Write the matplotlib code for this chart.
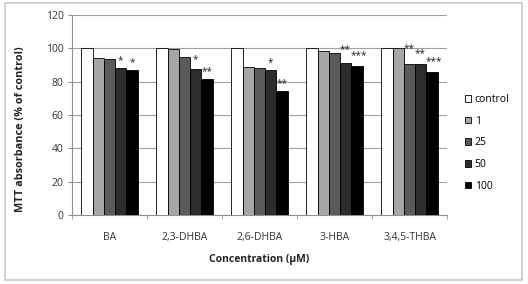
import matplotlib
matplotlib.use("Agg")
import matplotlib.pyplot as plt
import numpy as np
from matplotlib.patches import Rectangle

plt.rcParams['font.family'] = ['Open Sans', 'DejaVu Sans']

categories = ["BA", "2,3-DHBA", "2,6-DHBA", "3-HBA", "3,4,5-THBA"]
series_names = ["control", "1", "25", "50", "100"]
control = [100, 100, 100, 100, 100]
c1 = [94.4, 99.6, 89.0, 98.2, 100]
c25 = [93.4, 94.8, 88.0, 97.4, 90.6]
c50 = [88.4, 87.8, 86.8, 91.4, 90.6]
c100 = [86.8, 81.6, 74.6, 89.2, 85.8]
series = [control, c1, c25, c50, c100]
colors = ["#ffffff", "#a6a6a6", "#5a5a5a", "#2c2c2c", "#000000"]
# (category index, series index, label)
annotations = [
    (0, 3, "*"), (0, 4, "*"),
    (1, 3, "*"), (1, 4, "**"),
    (2, 3, "*"), (2, 4, "**"),
    (3, 3, "**"), (3, 4, "***"),
    (4, 2, "**"), (4, 3, "**"), (4, 4, "***"),
]
# extra vertical lift of each label and horizontal nudge in points (style only)
label_lift = [0, 0, 1, 0, 0, 0, 3.5, 2, 4.5, 1.5, 1.5]
label_nudge = [0, 0, 0, 0, 0, 0, -0.8, 1.2, 0, -0.5, 1.0]
yticks = [0, 20, 40, 60, 80, 100, 120]

fig = plt.figure(figsize=(5.28, 2.84), dpi=100)
fig.patches.append(Rectangle((5/528, 4/284), 517/528, 277/284, transform=fig.transFigure,
                             fill=False, edgecolor="#c8c8c8", linewidth=1.2))
ax = fig.add_axes([72/528, 1-215/284, 375/528, 200/284])

x = np.arange(len(categories))
w = 0.15
for i, (vals, col, name) in enumerate(zip(series, colors, series_names)):
    ax.bar(x + (i - 2) * w, vals, width=w, color=col, edgecolor="black",
           linewidth=0.6, label=name, zorder=3)

for (ci, si, lab), lift, nudge in zip(annotations, label_lift, label_nudge):
    ax.annotate(lab, (x[ci] + (si - 2) * w, series[si][ci] + 1.2 + lift),
                xytext=(nudge, 0), textcoords="offset points",
                ha="center", va="bottom", fontsize=7.2, zorder=4, color="#222222")

ax.set_xlim(-0.5, len(categories) - 0.5)
ax.set_ylim(0, 120)
ax.set_yticks(yticks)
ax.yaxis.grid(True, color="#a0a0a0", linewidth=0.8, zorder=0)
ax.set_axisbelow(True)
for s in ["top", "right"]:
    ax.spines[s].set_visible(False)
ax.spines["left"].set_color("#909090")
ax.spines["bottom"].set_color("#909090")
ax.set_xticks(x)
ax.set_xticklabels(categories, fontsize=7.5, color="#333333")
ax.set_xticks(np.arange(-0.5, len(categories)), minor=True)
ax.tick_params(axis="x", which="major", length=0, pad=12)
ax.tick_params(axis="x", which="minor", length=3, color="#909090")
ax.tick_params(axis="y", length=3, color="#909090", labelsize=7.5, labelcolor="#333333", pad=3)

ax.set_xlabel("Concentration (\u03bcM)", fontsize=7.5, fontweight="bold", labelpad=8, color="#222222")
ax.set_ylabel("MTT absorbance (% of control)", fontsize=7.8, fontweight="bold", color="#222222")
ax.yaxis.set_label_coords(-46/375, 0.43)

fig.legend(loc="upper left", bbox_to_anchor=(460/528, 1-89/284), frameon=False,
           fontsize=7.5, handlelength=0.6, handleheight=0.6, handletextpad=0.3,
           labelspacing=1.02, borderpad=0)

fig.savefig("out.png", dpi=100)
